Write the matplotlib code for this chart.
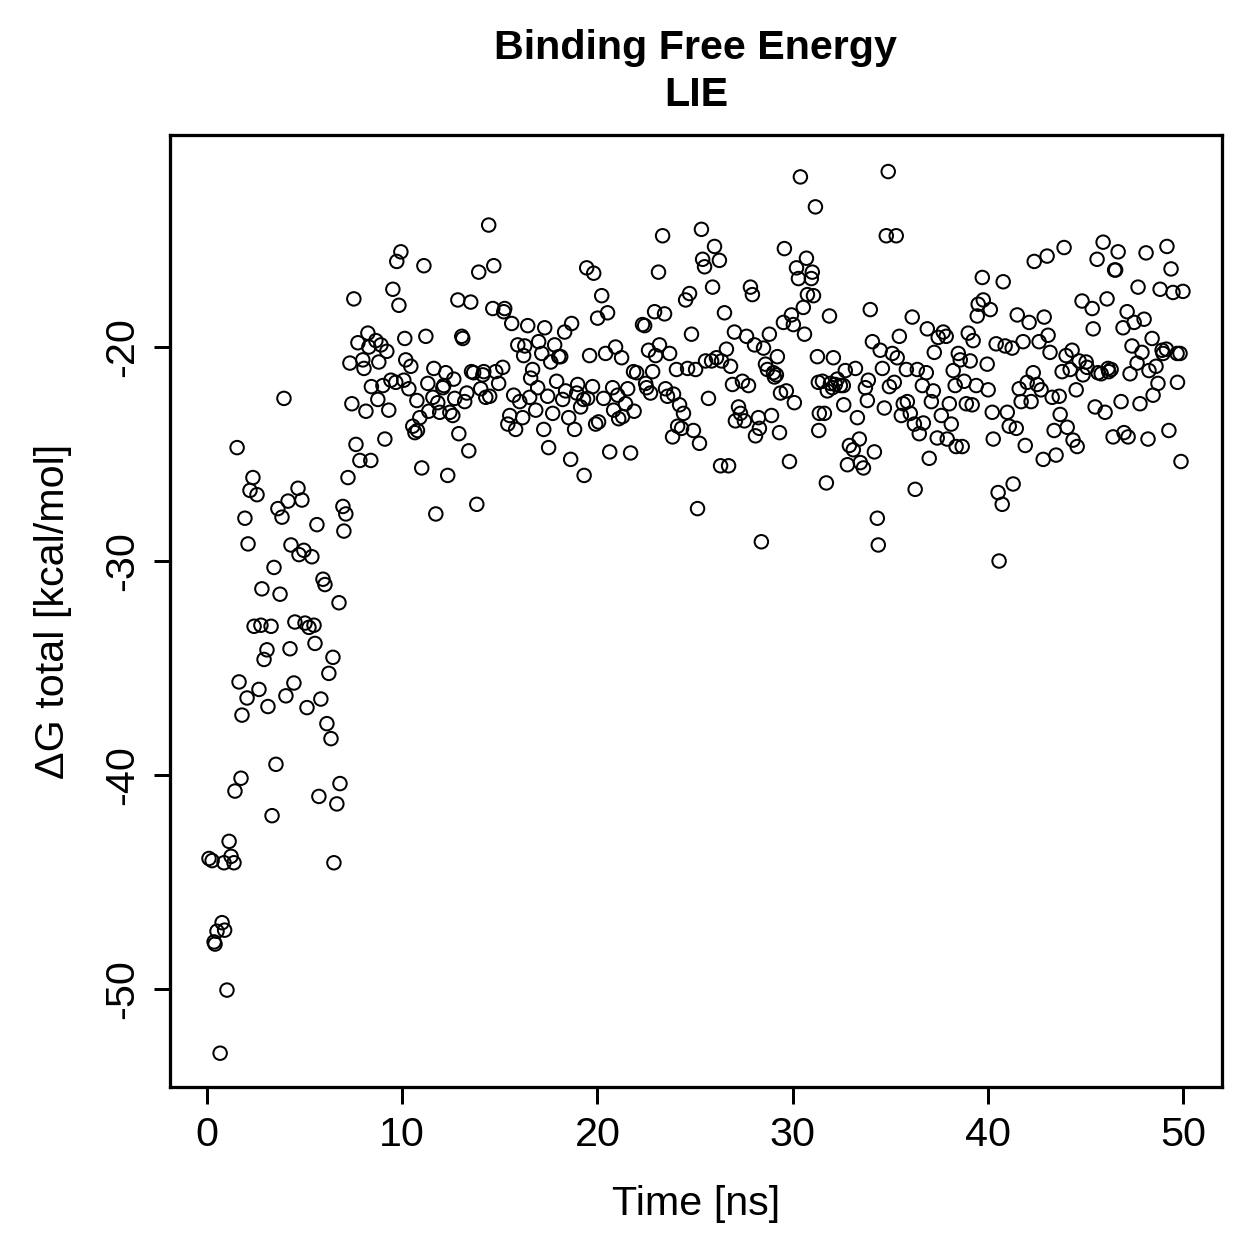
import matplotlib
matplotlib.use("Agg")
import matplotlib.pyplot as plt

plt.rcParams['font.family'] = ['Liberation Sans', 'DejaVu Sans']

# (time [ns], dG total [kcal/mol])
time_early = [1.54, 7.63, 7.83, 8.39, 7.22, 2.35, 2.20, 2.56, 4.66, 4.15, 4.86, 3.63, 3.84, 6.96, 7.11,
              1.94, 5.63, 7.01, 2.10, 4.30, 4.96, 4.71, 5.37, 3.43, 5.94, 6.04, 2.81, 3.74, 6.76, 2.41,
              2.76, 3.28, 4.50, 5.02, 5.22, 5.48, 3.07, 2.92, 4.25, 5.53, 6.45, 6.24, 1.64, 2.66, 2.05,
              3.12, 1.79, 4.04, 4.45, 5.83, 5.12, 6.14, 6.35, 3.53, 1.74, 1.43, 6.81, 5.73, 6.65, 3.33,
              1.13, 0.10, 0.26, 0.87, 1.23, 1.38, 6.50, 0.77, 0.51, 0.90, 0.36, 0.41, 1.02, 0.67, 3.94]
dg_early = [-24.7, -24.55, -25.3, -25.3, -26.1, -26.1, -26.7, -26.9, -26.6, -27.2, -27.15, -27.55, -27.95, -27.45, -27.8,
            -28.0, -28.3, -28.6, -29.2, -29.25, -29.5, -29.7, -29.8, -30.3, -30.85, -31.1, -31.3, -31.55, -31.95, -33.05,
            -33.0, -33.05, -32.85, -32.9, -33.1, -33.0, -34.15, -34.6, -34.1, -33.85, -34.5, -35.25, -35.65, -36.0, -36.4,
            -36.8, -37.2, -36.3, -35.7, -36.45, -36.85, -37.6, -38.3, -39.5, -40.15, -40.75, -40.4, -41.0, -41.35, -41.9,
            -43.1, -43.9, -44.0, -44.1, -43.8, -44.1, -44.1, -46.9, -47.3, -47.25, -47.8, -47.9, -50.05, -53.0, -22.4]

time_b = [9.93, 9.72, 11.11, 7.52, 9.52, 9.83, 12.85, 8.24, 7.73, 8.65, 8.91, 8.29, 9.21, 10.13, 11.21,
          13.05, 13.10, 7.32, 7.98, 8.04, 8.80, 10.18, 10.44, 11.62, 12.23, 12.64, 8.42, 9.01, 9.42, 9.67,
          10.08, 10.34, 11.31, 12.08, 12.13, 13.31, 8.75, 7.42, 8.14, 9.31, 10.75, 11.57, 11.82, 12.69, 13.20,
          11.36, 11.92, 12.44, 12.59, 10.90, 10.54, 10.78, 10.65, 12.90, 9.11, 13.41, 11.00, 12.33, 11.72]
dg_b = [-15.55, -16.0, -16.2, -17.75, -17.3, -18.05, -17.8, -19.35, -19.8, -19.7, -19.9, -20.0, -20.2, -19.6, -19.5,
        -19.5, -19.6, -20.75, -20.6, -21.0, -20.7, -20.6, -20.9, -21.0, -21.2, -21.5, -21.85, -21.8, -21.55, -21.65,
        -21.55, -21.95, -21.7, -21.9, -21.8, -22.15, -22.45, -22.65, -23.0, -22.95, -22.5, -22.35, -22.6, -22.4, -22.55,
        -23.0, -23.05, -23.05, -23.2, -23.3, -23.7, -23.9, -24.0, -24.05, -24.3, -24.85, -25.65, -26.0, -27.8]

time_c = [14.43, 13.92, 14.69, 13.51, 19.45, 19.81, 20.22, 20.01, 20.52, 14.64, 15.25, 15.20, 15.61, 16.43, 17.30,
          18.32, 18.68, 15.92, 16.28, 16.99, 17.81, 16.22, 17.15, 17.61, 18.02, 18.12, 19.60, 20.42, 20.93, 21.24,
          13.55, 13.66, 14.18, 14.13, 14.79, 15.15, 14.94, 14.02, 14.28, 14.48, 16.68, 16.58, 17.91, 16.94, 15.71,
          16.02, 16.53, 17.45, 16.84, 15.51, 15.41, 15.81, 16.17, 17.71, 17.25, 18.37, 18.22, 18.99, 18.94, 19.29,
          19.14, 19.75, 19.50, 18.53, 18.83, 20.78, 20.32, 21.04, 20.83, 21.44, 21.55, 21.85, 22.01, 21.88, 21.29,
          21.09, 20.06, 19.91, 17.50, 18.63, 20.63, 21.70, 19.32, 13.82]
dg_c = [-14.3, -16.5, -16.2, -17.9, -16.3, -16.55, -17.6, -18.65, -18.4, -18.2, -18.2, -18.35, -18.9, -19.0, -19.1,
        -19.3, -18.9, -19.9, -19.95, -19.75, -19.9, -20.4, -20.3, -20.7, -20.45, -20.45, -20.4, -20.3, -20.0, -20.5,
        -21.15, -21.2, -21.15, -21.3, -21.15, -20.95, -21.7, -21.95, -22.35, -22.3, -21.05, -21.45, -21.6, -21.9, -22.25,
        -22.55, -22.35, -22.3, -22.95, -23.2, -23.6, -23.85, -23.3, -23.1, -23.85, -22.05, -22.45, -21.75, -22.15, -22.45,
        -22.8, -21.85, -22.4, -23.3, -23.85, -21.9, -22.4, -22.25, -22.95, -22.65, -21.95, -21.15, -21.2, -23.0, -23.25,
        -23.35, -23.5, -23.6, -24.7, -25.25, -24.9, -24.95, -26.0, -27.35]

time_d = [30.40, 31.17, 23.34, 25.33, 26.00, 25.39, 25.49, 26.25, 23.13, 25.90, 29.58, 30.71, 30.20, 31.01, 30.30,
          30.96, 27.84, 27.94, 24.72, 24.52, 30.76, 31.07, 30.55, 29.94, 29.53, 30.04, 30.61, 26.51, 22.93, 23.44,
          22.31, 22.42, 24.82, 27.02, 27.64, 28.05, 28.51, 28.81, 29.22, 31.27, 22.62, 23.18, 22.98, 23.70, 26.61,
          26.10, 25.54, 25.85, 26.36, 26.82, 24.05, 24.62, 25.03, 22.83, 28.61, 28.71, 29.02, 29.07, 29.17, 26.92,
          27.43, 27.74, 22.47, 22.52, 22.72, 23.49, 23.59, 23.90, 24.21, 24.41, 25.69, 29.38, 29.68, 30.09, 31.32,
          27.23, 27.33, 27.07, 27.53, 28.25, 28.30, 28.10, 28.92, 29.33, 31.37, 31.34, 24.11, 24.31, 23.85, 24.92,
          25.23, 26.31, 26.72, 29.84, 25.13, 28.40]
dg_d = [-12.05, -13.45, -14.8, -14.5, -15.3, -15.9, -16.25, -15.95, -16.5, -17.2, -15.4, -15.85, -16.3, -16.5, -16.8,
        -16.8, -17.2, -17.55, -17.5, -17.8, -17.55, -17.6, -18.15, -18.5, -18.85, -18.95, -19.4, -18.4, -18.35, -18.45,
        -18.95, -19.0, -19.4, -19.3, -19.5, -19.9, -20.05, -19.4, -20.45, -20.45, -20.15, -19.9, -20.4, -20.3, -20.1,
        -20.5, -20.65, -20.65, -20.65, -20.9, -21.05, -21.0, -21.05, -21.15, -20.8, -21.05, -21.2, -21.4, -21.3, -21.75,
        -21.6, -21.8, -21.7, -21.9, -22.15, -21.95, -22.3, -22.2, -22.7, -23.1, -22.4, -22.15, -22.05, -22.6, -21.65,
        -22.8, -23.1, -23.45, -23.45, -23.3, -23.8, -24.15, -23.2, -24.0, -23.1, -23.9, -23.7, -23.8, -24.2, -23.9,
        -24.5, -25.55, -25.55, -25.35, -27.55, -29.1]

time_e = [34.90, 34.80, 35.31, 39.72, 39.77, 39.51, 39.46, 31.89, 33.98, 36.13, 36.90, 37.72, 37.46, 37.87, 35.47,
          39.00, 39.25, 37.26, 34.09, 34.49, 35.11, 35.36, 38.49, 38.59, 39.10, 38.23, 32.09, 32.70, 33.22, 34.60,
          35.83, 36.39, 36.85, 31.53, 31.94, 32.29, 32.19, 32.45, 32.60, 31.78, 32.04, 33.88, 33.73, 35.21, 34.96,
          36.65, 37.21, 38.33, 38.79, 39.41, 33.83, 32.62, 34.70, 35.67, 35.88, 35.57, 36.03, 37.11, 38.03, 38.90,
          39.20, 31.63, 33.32, 36.24, 36.70, 36.49, 37.62, 38.13, 33.42, 32.91, 33.11, 32.81, 33.47, 33.63, 34.19,
          37.41, 37.92, 38.38, 38.69, 37.00, 31.73, 36.28, 34.34, 34.39]
dg_e = [-11.8, -14.8, -14.8, -16.75, -17.8, -18.0, -18.55, -18.55, -18.25, -18.6, -19.15, -19.3, -19.55, -19.5, -19.5,
        -19.35, -19.7, -20.25, -19.75, -20.15, -20.3, -20.5, -20.3, -20.6, -20.65, -21.1, -20.5, -21.1, -21.0, -21.0,
        -21.05, -21.05, -21.2, -21.6, -21.7, -21.5, -21.75, -21.8, -21.8, -22.05, -21.9, -21.55, -21.9, -21.65, -21.85,
        -21.8, -22.05, -21.8, -21.6, -21.8, -22.5, -22.7, -22.85, -22.65, -22.55, -23.2, -23.1, -22.55, -22.65, -22.65,
        -22.7, -23.1, -23.3, -23.6, -23.55, -24.05, -23.2, -23.6, -24.3, -24.6, -24.8, -25.5, -25.4, -25.65, -24.9,
        -24.25, -24.3, -24.65, -24.65, -25.2, -26.35, -26.65, -28.0, -29.25]

time_f = [45.91, 46.68, 45.60, 46.50, 46.55, 48.11, 49.18, 49.39, 43.91, 43.04, 42.38, 40.79, 47.70, 48.83, 49.49,
          50.00, 44.83, 45.35, 46.11, 40.13, 41.51, 42.12, 42.89, 45.40, 47.14, 47.50, 48.01, 46.93, 43.09, 40.43,
          40.89, 41.25, 41.81, 42.63, 43.19, 39.97, 40.02, 47.39, 48.42, 47.90, 48.93, 49.15, 48.98, 49.70, 49.85,
          44.01, 44.32, 44.68, 45.04, 45.09, 44.88, 43.81, 44.22, 45.65, 45.81, 46.16, 46.32, 46.20, 47.29, 47.65,
          48.26, 48.62, 49.72, 48.72, 48.47, 47.80, 46.83, 45.50, 46.01, 44.53, 42.33, 42.02, 42.53, 41.61, 42.73,
          41.71, 42.22, 43.30, 43.66, 43.71, 40.23, 41.00, 41.10, 41.46, 43.40, 44.07, 44.37, 44.58, 40.28, 41.92,
          43.50, 42.84, 46.42, 46.98, 47.19, 48.21, 49.28, 49.90, 41.30, 40.53, 40.74, 40.58]
dg_f = [-15.1, -15.55, -15.9, -16.4, -16.4, -15.6, -15.3, -16.35, -15.35, -15.75, -16.0, -16.95, -17.2, -17.3, -17.45,
        -17.4, -17.85, -18.2, -17.75, -18.25, -18.5, -18.85, -18.6, -19.15, -18.35, -18.85, -18.7, -19.1, -19.45, -19.85,
        -19.95, -20.05, -19.75, -19.75, -20.25, -20.8, -22.0, -19.95, -19.6, -20.25, -20.15, -20.1, -20.3, -20.3, -20.3,
        -20.4, -20.15, -20.65, -20.7, -20.95, -21.3, -21.15, -21.05, -21.2, -21.25, -21.0, -21.05, -21.15, -21.25, -20.75,
        -21.1, -20.9, -21.65, -21.7, -22.25, -22.65, -22.55, -22.8, -23.05, -22.0, -21.2, -21.65, -21.75, -21.95, -22.0,
        -22.55, -22.55, -22.35, -22.3, -23.15, -23.05, -23.05, -23.7, -23.8, -23.9, -23.75, -24.35, -24.65, -24.3, -24.6,
        -25.05, -25.25, -24.2, -24.0, -24.2, -24.3, -23.9, -25.35, -26.4, -26.8, -27.35, -30.0]

time_ns = time_early + time_b + time_c + time_d + time_e + time_f
dg_total = dg_early + dg_b + dg_c + dg_d + dg_e + dg_f

x_ticks = [0, 10, 20, 30, 40, 50]
y_ticks = [-50, -40, -30, -20]
title_text = "Binding Free Energy\nLIE"
x_label = "Time [ns]"
y_label = "ΔG total [kcal/mol]"

FS = 16.5

fig = plt.figure(figsize=(1259 / 180, 1259 / 180), dpi=180)
ax = fig.add_axes([0.135, 0.1366, 0.8356, 0.7562])
ax.scatter(time_ns, dg_total, s=29, facecolors='none', edgecolors='black', linewidths=0.8)

ax.set_xlim(-1.9, 52.0)
ax.set_ylim(-54.58, -10.09)
ax.set_xticks(x_ticks)
ax.set_yticks(y_ticks)
ax.set_yticklabels([str(v) for v in y_ticks], rotation=90, va='center')
ax.tick_params(direction='out', length=6.6, width=1.2, labelsize=FS, pad=4.8)
for sp in ax.spines.values():
    sp.set_linewidth(1.3)

ax.set_xlabel(x_label, fontsize=FS, labelpad=12.5)
ax.set_ylabel(y_label, fontsize=FS, labelpad=12.5)
ax.set_title(title_text, fontsize=FS, fontweight='bold', pad=11.5, linespacing=1.3)

fig.savefig("out.png", dpi=180)
